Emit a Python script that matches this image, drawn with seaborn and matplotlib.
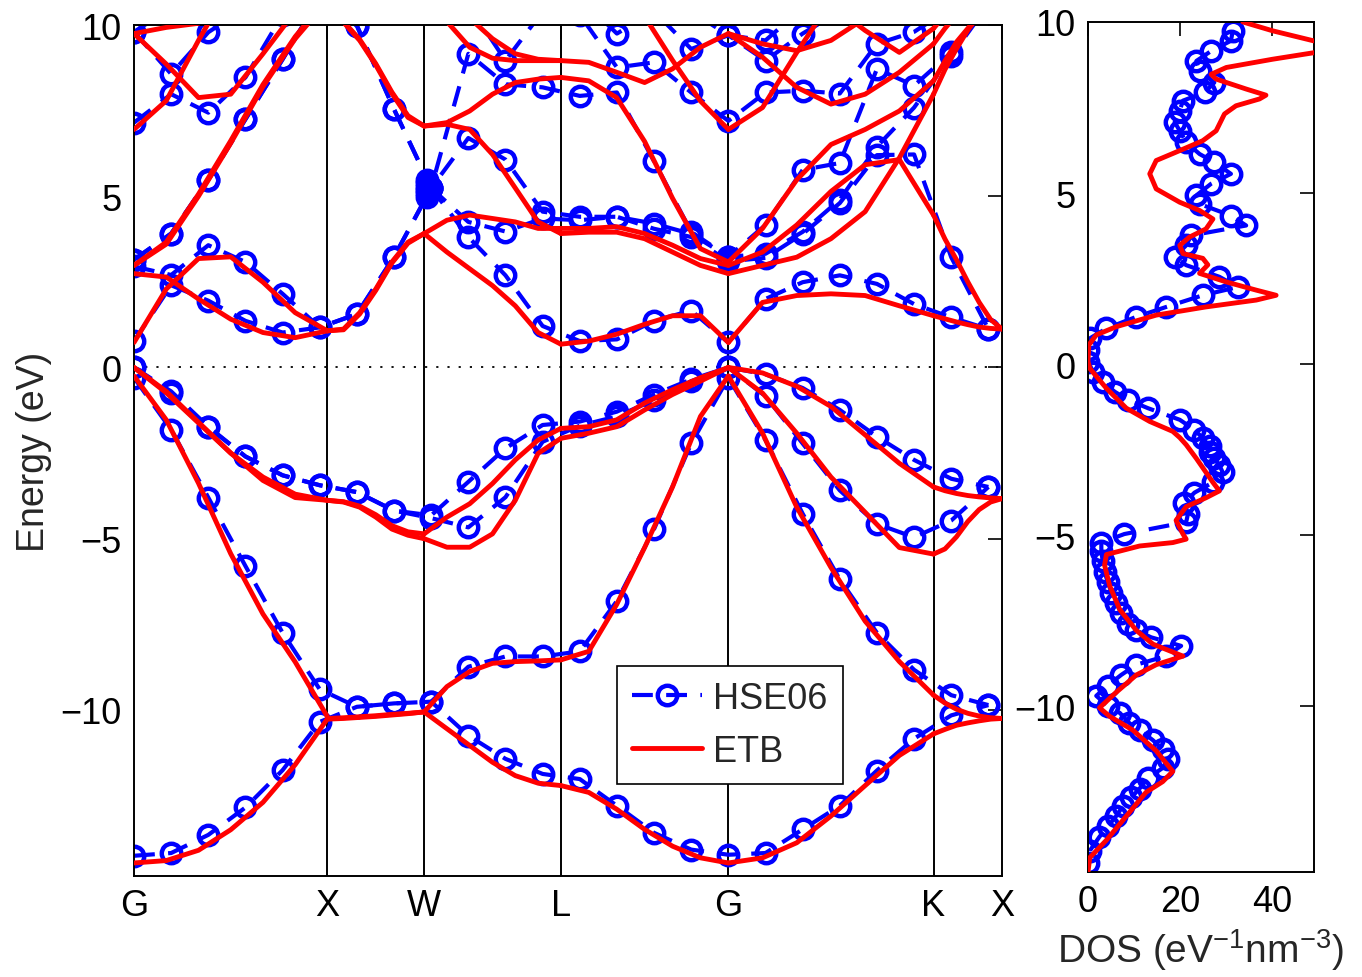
import numpy as np
import pandas as pd
import matplotlib
matplotlib.use('Agg')
import matplotlib.pyplot as plt
import seaborn as sns
from matplotlib.lines import Line2D

nan = np.nan

# --- DATA ---
SYM_LABELS = ['G', 'X', 'W', 'L', 'G', 'K', 'X']
SYM_K = [0.0, 1.0, 1.5, 2.207, 3.073, 4.134, 4.488]

# ETB bands per path segment, energies (eV) at 7 evenly spaced k-points
ETB_GX = [
    [-14.47, -14.40, -14.10, -13.50, -12.70, -11.60, -10.26],
    [-0.25, -1.53, -3.38, -5.44, -7.20, -8.60, -10.20],
    [0.00, -0.70, -1.60, -2.50, -3.20, -3.70, -3.88],
    [0.00, -0.74, -1.62, -2.50, -3.30, -3.80, -3.88],
    [0.73, 2.29, 3.18, 3.23, 2.49, 1.60, 1.07],
    [2.74, 2.64, 2.00, 1.41, 1.02, 0.87, 1.07],
    [2.98, 3.60, 5.00, 6.55, 8.20, 9.60, 10.70],
    [2.98, 3.66, 5.06, 6.62, 8.26, 9.66, 10.80],
    [6.95, 7.79, 9.55, 11.20, nan, nan, nan],
    [9.75, 8.86, 7.88, 7.98, 9.16, 10.40, nan],
    [9.75, 9.93, 10.05, nan, nan, nan, nan],
]
ETB_XW = [
    [-10.25, -10.23, -10.20, -10.17, -10.13, -10.10, -10.06],
    [-10.27, -10.25, -10.22, -10.19, -10.15, -10.11, -10.06],
    [-3.88, -3.93, -4.08, -4.37, -4.72, -4.90, -5.00],
    [-3.88, -3.92, -4.05, -4.30, -4.62, -4.80, -4.86],
    [1.07, 1.12, 1.60, 2.29, 3.08, 3.66, 3.91],
    [1.07, 1.10, 1.56, 2.25, 3.05, 3.63, 3.91],
    [10.60, 10.10, 9.58, 8.87, 8.04, 7.35, 7.05],
    [10.60, 10.08, 9.55, 8.83, 8.00, 7.30, 7.05],
]
ETB_WL = [
    [-10.06, -10.55, -11.04, -11.53, -11.92, -12.14, -12.21],
    [-10.06, -9.32, -8.88, -8.64, -8.59, -8.57, -8.54],
    [-5.00, -5.25, -5.25, -4.86, -3.88, -2.51, -2.07],
    [-4.86, -4.37, -3.98, -3.39, -2.70, -2.12, -1.78],
    [3.91, 3.37, 2.88, 2.39, 1.80, 1.02, 0.68],
    [3.91, 4.30, 4.45, 4.35, 4.25, 4.06, 4.06],
    [7.05, 7.15, 7.49, 7.98, 8.32, 8.42, 8.47],
    [7.05, 7.10, 6.95, 6.22, 5.24, 4.25, 3.91],
    [10.90, 10.10, 9.35, 9.03, 8.96, 8.96, 8.96],
    [nan, 10.80, 10.20, 9.60, 9.16, 9.00, 8.96],
]
ETB_LG = [
    [-12.21, -12.41, -12.90, -13.49, -13.98, -14.32, -14.47],
    [-8.54, -8.29, -6.92, -5.26, -3.49, -1.43, -0.25],
    [-2.07, -1.92, -1.73, -1.24, -0.79, -0.40, 0.00],
    [-1.78, -1.73, -1.53, -1.04, -0.65, -0.30, 0.00],
    [0.68, 0.77, 0.97, 1.26, 1.51, 1.51, 0.73],
    [4.06, 4.06, 4.11, 3.91, 3.57, 3.18, 2.98],
    [3.91, 3.95, 3.95, 3.76, 3.37, 2.98, 2.74],
    [8.47, 8.37, 7.88, 6.60, 4.94, 3.47, 3.08],
    [8.96, 8.91, 8.62, 8.32, 8.72, 9.35, 9.75],
    [nan, nan, nan, 10.25, 8.97, 7.78, 6.95],
]
ETB_GK = [
    [-14.47, -14.32, -13.88, -13.10, -12.21, -11.33, -10.70],
    [-0.25, -1.92, -4.08, -5.84, -7.41, -8.59, -9.57],
    [0.00, -0.75, -1.92, -3.20, -4.23, -5.26, -5.45],
    [0.00, -0.16, -0.55, -1.14, -1.97, -2.80, -3.49],
    [0.73, 1.90, 2.10, 2.15, 2.10, 1.80, 1.51],
    [2.74, 2.98, 3.22, 3.76, 4.55, 6.12, 7.98],
    [2.98, 3.37, 4.16, 5.14, 5.92, 6.07, 4.45],
    [3.08, 4.06, 5.48, 6.51, 6.95, 7.49, 8.37],
    [6.95, 7.59, 9.20, 10.70, nan, nan, nan],
    [9.75, 9.06, 8.18, 7.69, 7.98, 8.62, 9.45],
    [9.75, 9.45, 9.25, 9.55, 10.20, nan, nan],
    [nan, nan, nan, 10.60, 9.84, 9.20, 9.90],
]
ETB_KX = [
    [-10.70, -10.57, -10.45, -10.38, -10.32, -10.27, -10.25],
    [-9.57, -9.80, -9.98, -10.10, -10.18, -10.23, -10.25],
    [-5.45, -5.30, -4.95, -4.50, -4.15, -3.93, -3.83],
    [-3.49, -3.60, -3.68, -3.74, -3.78, -3.81, -3.83],
    [1.51, 1.42, 1.33, 1.25, 1.18, 1.14, 1.12],
    [7.98, 8.70, 9.30, 9.85, 10.30, nan, nan],
    [4.45, 3.75, 3.15, 2.50, 1.90, 1.40, 1.12],
    [8.37, 8.95, 9.50, 9.90, 10.30, nan, nan],
    [9.45, 9.90, 10.30, nan, nan, nan, nan],
    [9.90, 10.30, nan, nan, nan, nan, nan],
]
ETB_SEGMENTS = [ETB_GX, ETB_XW, ETB_WL, ETB_LG, ETB_GK, ETB_KX]

# HSE06 bands on the uniform k-mesh (24 points, G..G spans 16 steps)
HSE_B1 = [-14.26, -14.18, -13.65, -12.85, -11.76, -10.35, -9.91, -9.81, -9.76, -10.75, -11.43, -11.87,
          -12.02, -12.80, -13.59, -14.08, -14.23, -14.18, -13.49, -12.80, -11.77, -10.84, -10.16, -9.86]
HSE_B2 = [-0.30, -1.82, -3.80, -5.80, -7.75, -9.40, -9.91, -9.81, -9.76, -8.74, -8.44, -8.44,
          -8.29, -6.82, -4.72, -2.22, -0.30, -2.12, -4.27, -6.19, -7.75, -8.83, -9.57, -9.86]
HSE_B3 = [0.00, -0.75, -1.75, -2.60, -3.15, -3.44, -3.64, -4.18, -4.40, -4.67, -3.79, -2.17,
          -1.70, -1.43, -0.95, -0.40, 0.00, -0.84, -2.22, -3.59, -4.57, -4.96, -4.47, -3.49]
HSE_B4 = [0.00, -0.70, -1.73, -2.60, -3.15, -3.44, -3.64, -4.18, -4.32, -3.34, -2.36, -1.68,
          -1.58, -1.29, -0.79, -0.35, 0.00, -0.20, -0.60, -1.24, -2.02, -2.70, -3.25, -3.49]
HSE_B5 = [0.77, 2.40, 1.95, 1.36, 1.02, 1.17, 1.56, 3.23, 5.24, 3.81, 2.69, 1.21,
          0.77, 0.82, 1.36, 1.66, 0.73, 2.00, 2.49, 2.69, 2.44, 1.85, 1.46, 1.12]
HSE_B6 = [2.95, 2.70, 3.57, 3.08, 2.15, 1.17, 1.56, 3.23, 5.24, 4.25, 3.97, 4.35,
          4.30, 4.40, 4.05, 3.81, 3.10, 3.20, 3.90, 4.80, 6.20, 6.22, 3.22, 1.12]
HSE_B7 = [3.15, 3.91, 5.48, 7.25, 9.00, 10.80, 9.98, 7.54, 5.24, 6.70, 6.07, 4.55,
          4.40, 4.40, 4.20, 3.90, 3.23, 3.32, 3.96, 4.90, 6.45, 7.59, 9.10, 10.60]
HSE_B8 = [3.15, 3.91, 5.48, 7.25, 9.00, 10.80, 9.98, 7.54, 5.24, 9.16, 8.27, 8.18,
          7.93, 8.03, 6.02, 3.96, 3.23, 4.16, 5.77, 5.97, 8.72, 8.23, 9.20, 10.60]
HSE_B9 = [7.15, 7.98, 7.44, 8.47, 10.30, 10.80, 10.80, 10.80, 10.80, 10.60, 8.96, 10.40,
          10.30, 8.76, 8.91, 8.03, 7.20, 8.03, 8.08, 8.00, 9.45, 9.80, 10.50, 10.60]
HSE_B10 = [9.80, 8.57, 9.79, 10.50, 10.80, 11.00, 11.00, 11.00, 11.00, 11.00, 10.50, 10.80,
           10.80, 9.75, 10.40, 9.30, 9.70, 8.96, 9.75, 10.40, 10.80, 11.00, 11.00, 11.00]
HSE_B11 = [9.80, 10.50, 11.00, 11.00, 11.00, 11.00, 11.00, 11.00, 11.00, 11.00, 11.00, 11.00,
           11.00, 10.50, 11.00, 10.40, 9.70, 9.55, 10.50, 11.00, 11.00, 11.00, 11.00, 11.00]
HSE_BANDS = [HSE_B1, HSE_B2, HSE_B3, HSE_B4, HSE_B5, HSE_B6, HSE_B7, HSE_B8, HSE_B9, HSE_B10, HSE_B11]
# overlapping HSE06 points piled up at W
HSE_W_CLUSTER = [4.98, 5.08, 5.18, 5.28, 5.38, 5.46]

# DOS (eV^-1 nm^-3) vs energy (eV)
DOS_ETB_E = [10.0, 9.74, 9.45, 9.3, 9.1, 8.91, 8.67, 8.47, 8.33, 8.04, 7.86, 7.75, 7.55, 7.31, 6.82,
             6.53, 6.24, 5.95, 5.56, 5.12, 4.73, 4.49, 4.24, 3.95, 3.71, 3.47, 3.23, 3.09, 2.9, 2.65,
             2.4, 2.16, 2.01, 1.87, 1.67, 1.43, 1.09, 0.85, 0.56, 0.07, -0.13, -0.71, -1.29, -1.68,
             -1.97, -2.15, -2.36, -2.76, -3.46, -3.71, -3.91, -4.17, -4.57, -4.97, -5.12, -5.22,
             -5.32, -5.57, -5.88, -6.48, -7.18, -7.79, -8.19, -8.54, -8.79, -9.09, -9.6, -10.05,
             -10.3, -10.7, -11.31, -11.91, -12.21, -12.52, -13.22, -13.92, -14.43, -14.85]
DOS_ETB = [33.6, 40.1, 48.9, 56.0, 48.9, 40.0, 30.0, 26.7, 27.8, 34.3, 38.6, 37.2, 32.1, 29.6, 27.8,
           24.9, 19.9, 14.8, 13.4, 14.8, 19.9, 24.2, 27.1, 25.6, 22.0, 19.9, 20.6, 24.9, 26.0, 24.2,
           30.0, 36.5, 40.8, 36.5, 25.6, 14.8, 6.1, 1.8, 0.2, 0.0, 0.4, 4.0, 8.3, 13.4,
           18.4, 19.9, 21.3, 23.5, 27.1, 28.5, 25.6, 21.3, 19.1, 20.6, 21.3, 18.4,
           11.2, 4.0, 3.6, 4.7, 6.9, 10.5, 14.1, 20.6, 14.8, 10.5, 6.1, 2.5,
           4.7, 9.7, 14.8, 18.4, 16.2, 12.6, 8.3, 4.0, 0.4, 0.0]
DOS_HSE_E = [9.74, 9.45, 9.15, 8.86, 8.57, 8.23, 7.94, 7.7, 7.41, 7.07, 6.82, 6.48, 6.14, 5.9, 5.56,
             5.27, 4.93, 4.68, 4.34, 4.05, 3.76, 3.47, 3.13, 2.89, 2.55, 2.25, 2.01, 1.67, 1.38,
             1.04, 0.75, 0.41, 0.07, -0.22, -0.52, -0.81, -1.05, -1.29, -1.63, -1.92, -2.17,
             -2.41, -2.56, -2.76, -2.96, -3.16, -3.46, -3.76, -4.06, -4.37, -4.62, -4.97, -5.22,
             -5.47, -5.77, -6.08, -6.38, -6.68, -6.98, -7.28, -7.59, -7.79, -7.99, -8.24, -8.54,
             -8.79, -9.09, -9.4, -9.7, -10.0, -10.2, -10.5, -10.7, -11.0, -11.26, -11.56, -11.81,
             -12.11, -12.41, -12.67, -12.92, -13.22, -13.52, -13.82, -14.23, -14.58]
DOS_HSE = [31.4, 31.0, 26.7, 23.5, 24.2, 27.4, 25.3, 20.6, 19.9, 18.8, 19.9, 21.3, 24.2, 27.4, 31.0,
           26.7, 23.5, 24.2, 31.0, 34.3, 22.4, 21.3, 18.8, 21.3, 28.5, 32.5, 24.9, 17.0, 10.5,
           4.0, 0.4, 0.0, 0.0, 1.1, 3.2, 5.8, 8.7, 13.0, 19.9, 23.1, 24.9,
           26.4, 26.4, 27.4, 28.5, 29.2, 27.1, 23.1, 20.9, 21.7, 21.3, 7.9, 2.9,
           2.9, 3.2, 3.6, 4.3, 5.1, 6.1, 7.2, 8.7, 10.5, 13.7, 20.2, 16.9,
           10.5, 7.2, 4.3, 1.8, 4.3, 6.9, 9.0, 11.2, 14.1, 16.2, 17.3, 16.2,
           13.0, 11.2, 9.4, 7.6, 6.1, 4.3, 2.5, 0.4, 0.0]

# --- TABLES ---
rows = []
for s, bands in enumerate(ETB_SEGMENTS):
    kk = np.linspace(SYM_K[s], SYM_K[s + 1], len(bands[0]))
    for j, b in enumerate(bands):
        for k, e in zip(kk, b):
            rows.append((f'{s}-{j}', k, e))
etb = pd.DataFrame(rows, columns=['band', 'k', 'E']).dropna()

hse_k = SYM_K[4] / 16 * np.arange(len(HSE_B1))
hse = pd.DataFrame([(f'b{j}', k, e) for j, b in enumerate(HSE_BANDS) for k, e in zip(hse_k, b)],
                   columns=['band', 'k', 'E'])

# --- STYLE ---
sns.set_style('white')
plt.rcParams['font.family'] = ['Liberation Sans', 'DejaVu Sans']
plt.rcParams['mathtext.fontset'] = 'custom'
plt.rcParams['mathtext.rm'] = 'Liberation Sans'
plt.rcParams['mathtext.it'] = 'Liberation Sans:italic'
FS = 26
BLUE = '#0000ff'
RED = '#ff0000'
hse_kw = dict(color=BLUE, lw=3.0, linestyle=(0, (5, 3.2)), marker='o', markersize=14,
              markerfacecolor='none', markeredgecolor=BLUE, markeredgewidth=3.2)
etb_kw = dict(color=RED, lw=3.5)

fig = plt.figure(figsize=(13.62, 9.78), dpi=100)
ax = fig.add_axes([0.0984, 0.1033, 0.6373, 0.8701])
ax2 = fig.add_axes([0.7988, 0.1074, 0.1659, 0.8691])

# --- BAND STRUCTURE ---
for k in SYM_K[1:-1]:
    ax.axvline(k, color='black', lw=1.4, zorder=1)
ax.axhline(0, color='black', lw=1.3, linestyle=(0, (1.2, 5)), zorder=1)

sns.lineplot(data=hse, x='k', y='E', units='band', estimator=None, sort=False, ax=ax,
             zorder=2, **hse_kw)
sns.lineplot(x=[SYM_K[2] + 0.016] * len(HSE_W_CLUSTER), y=HSE_W_CLUSTER, estimator=None,
             sort=False, ax=ax, zorder=2, **hse_kw)
sns.lineplot(data=etb, x='k', y='E', units='band', estimator=None, sort=False, ax=ax,
             zorder=3, **etb_kw)

ax.set_xlim(SYM_K[0], SYM_K[-1])
ax.set_ylim(-14.85, 10)
ax.set_xticks(SYM_K)
ax.set_xticklabels(SYM_LABELS)
ax.set_yticks([-10, -5, 0, 5, 10])
ax.set_xlabel('')
ax.set_ylabel('Energy (eV)', fontsize=FS + 1, labelpad=6)

handles = [Line2D([], [], label='HSE06', **hse_kw), Line2D([], [], label='ETB', **etb_kw)]
leg = ax.legend(handles=handles, loc='lower left', bbox_to_anchor=(0.556, 0.108), borderaxespad=0,
                fontsize=FS, frameon=True, fancybox=False, edgecolor='black', framealpha=1,
                handlelength=1.95, handletextpad=0.3, borderpad=0.42, labelspacing=0.5)
leg.get_frame().set_linewidth(1.2)

# --- DOS ---
sns.lineplot(x=DOS_HSE, y=DOS_HSE_E, estimator=None, sort=False, ax=ax2, zorder=2, **hse_kw)
sns.lineplot(x=DOS_ETB, y=DOS_ETB_E, estimator=None, sort=False, ax=ax2, zorder=3, **etb_kw)
ax2.set_xlim(0, 49)
ax2.set_ylim(-14.85, 10)
ax2.set_xticks([0, 20, 40])
ax2.set_yticks([-10, -5, 0, 5, 10])
ax2.set_xlabel('DOS (eV$^{-1}$nm$^{-3}$)', fontsize=FS + 2, labelpad=5)
ax2.set_ylabel('')

for a in (ax, ax2):
    a.tick_params(direction='in', length=10, width=1.2, top=True, right=True,
                  labelsize=FS, pad=9, colors='black')
    for sp in a.spines.values():
        sp.set_color('black')
        sp.set_linewidth(1.4)
    a.grid(False)

fig.savefig('out.png', dpi=100)
